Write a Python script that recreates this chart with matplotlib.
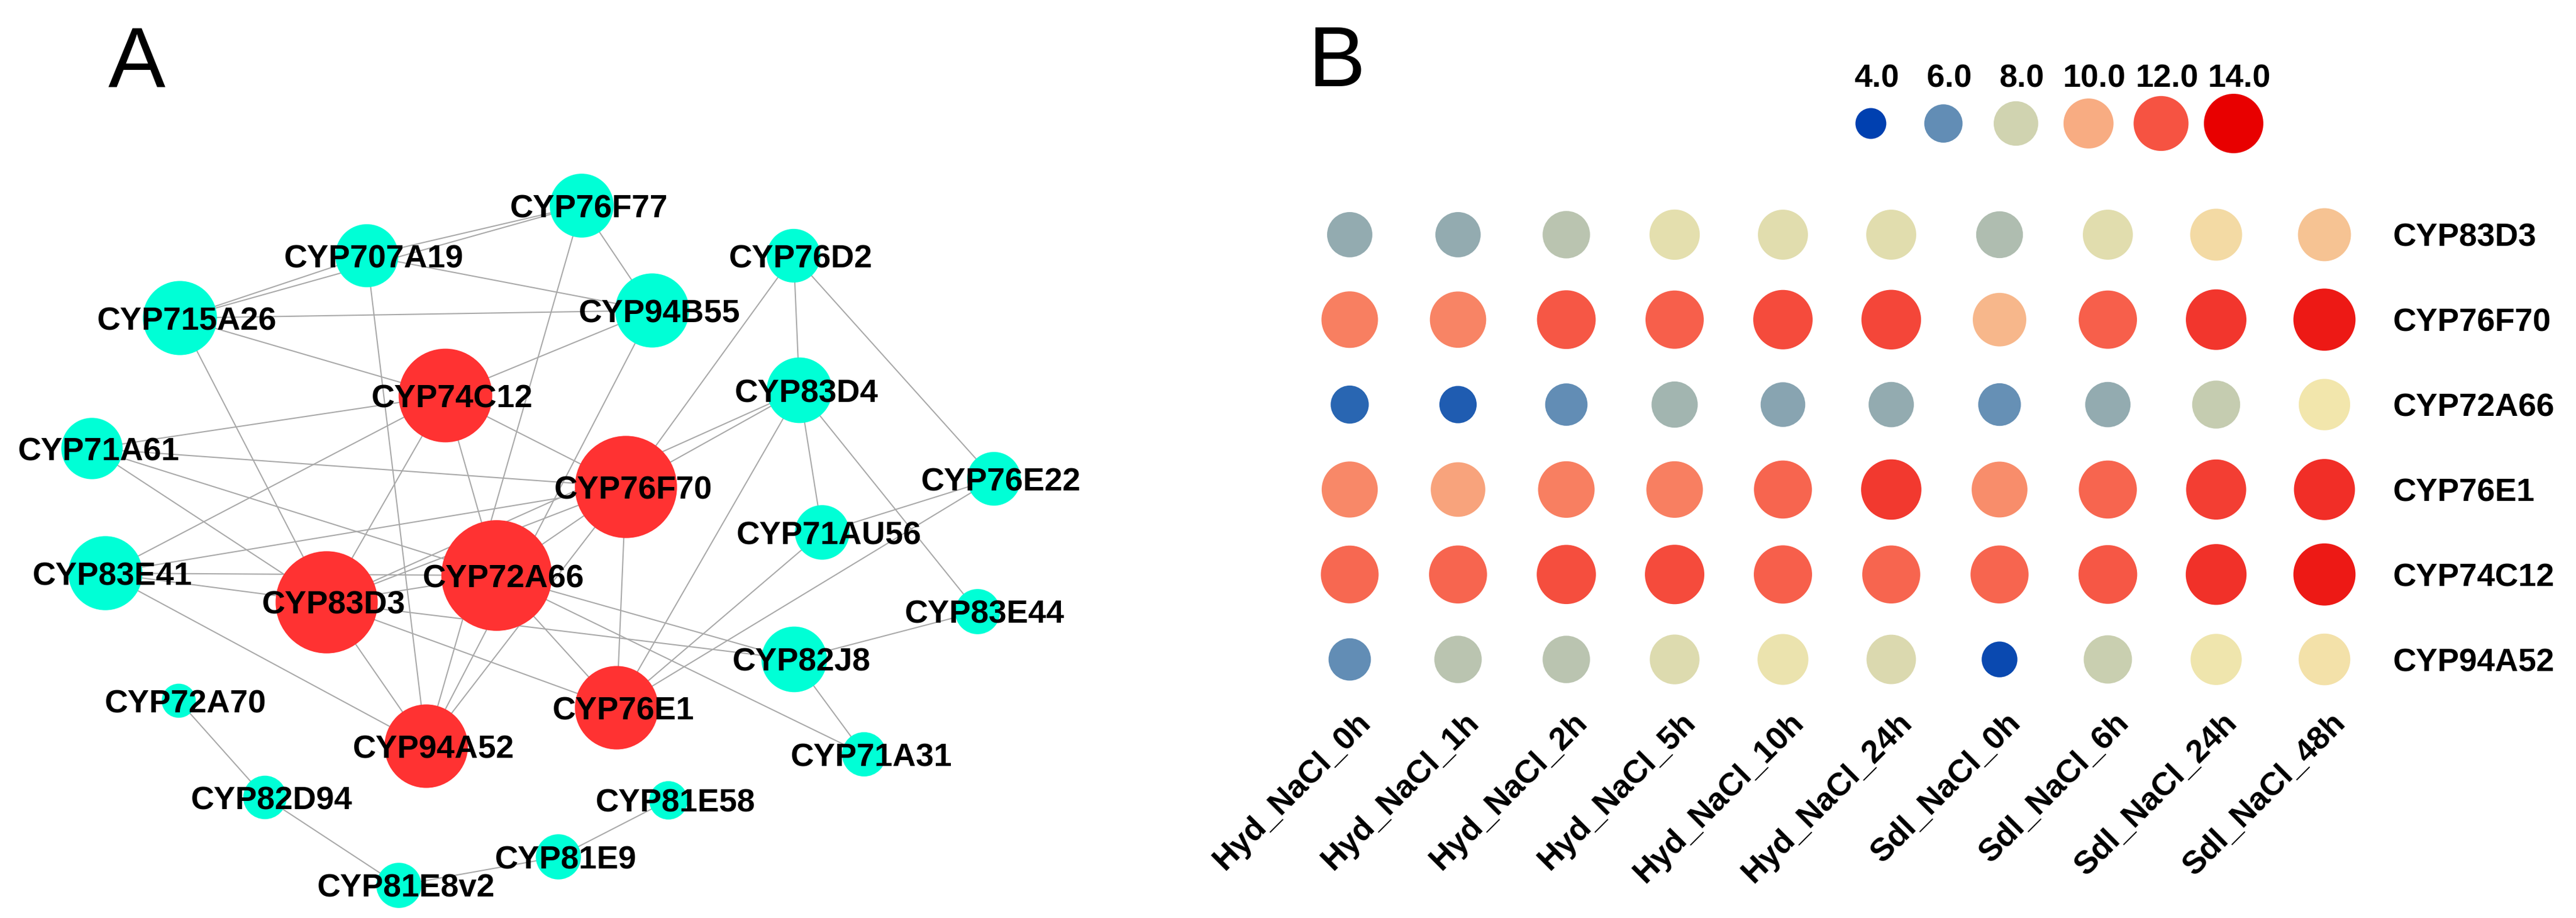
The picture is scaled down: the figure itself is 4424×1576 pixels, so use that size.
import matplotlib
matplotlib.use("Agg")
import matplotlib.pyplot as plt
import matplotlib.transforms as mtransforms
from matplotlib.patches import Circle
from matplotlib.colors import LinearSegmentedColormap, Normalize
import numpy as np

plt.rcParams['font.family'] = ['Liberation Sans', 'DejaVu Sans']

# ---- panel B data: expression of the hub genes ----
genes = ["CYP83D3", "CYP76F70", "CYP72A66", "CYP76E1", "CYP74C12", "CYP94A52"]
samples = ["Hyd_NaCl_0h", "Hyd_NaCl_1h", "Hyd_NaCl_2h", "Hyd_NaCl_5h", "Hyd_NaCl_10h",
           "Hyd_NaCl_24h", "Sdl_NaCl_0h", "Sdl_NaCl_6h", "Sdl_NaCl_24h", "Sdl_NaCl_48h"]
cyp83d3 = [6.9, 6.9, 7.6, 8.6, 8.5, 8.5, 7.4, 8.5, 9.2, 9.6]
cyp76f70 = [11.0, 10.9, 11.9, 11.7, 12.2, 12.3, 9.8, 11.7, 12.7, 13.4]
cyp72a66 = [4.8, 4.6, 6.0, 7.2, 6.7, 6.9, 6.1, 6.9, 7.8, 9.0]
cyp76e1 = [10.8, 10.2, 11.0, 11.0, 11.6, 12.6, 10.7, 11.6, 12.5, 12.9]
cyp74c12 = [11.5, 11.6, 12.1, 12.2, 11.7, 11.6, 11.6, 11.9, 12.8, 13.4]
cyp94a52 = [6.0, 7.6, 7.6, 8.4, 8.8, 8.3, 4.2, 7.9, 8.9, 9.1]
legend_values = [4.0, 6.0, 8.0, 10.0, 12.0, 14.0]

# ---- panel A data: co-expression network ----
nodes = ["CYP76F77", "CYP707A19", "CYP715A26", "CYP94B55", "CYP76D2", "CYP74C12",
         "CYP83D4", "CYP71A61", "CYP76F70", "CYP76E22", "CYP71AU56", "CYP83E41",
         "CYP83D3", "CYP72A66", "CYP83E44", "CYP82J8", "CYP72A70", "CYP94A52",
         "CYP76E1", "CYP71A31", "CYP82D94", "CYP81E58", "CYP81E9", "CYP81E8v2"]
node_score = [4.5, 4.4, 5.7, 5.7, 3.3, 8.0,
              4.7, 4.2, 9.0, 3.3, 3.4, 5.7,
              9.0, 10.0, 2.3, 4.7, 1.0, 6.8,
              6.8, 2.2, 2.1, 1.5, 2.3, 2.3]
edges = [
    ("CYP715A26", "CYP707A19"), ("CYP715A26", "CYP76F77"), ("CYP707A19", "CYP76F77"),
    ("CYP707A19", "CYP94B55"), ("CYP715A26", "CYP94B55"), ("CYP715A26", "CYP74C12"),
    ("CYP715A26", "CYP83D3"), ("CYP707A19", "CYP94A52"), ("CYP76F77", "CYP94A52"),
    ("CYP76F77", "CYP94B55"), ("CYP94B55", "CYP74C12"), ("CYP94B55", "CYP94A52"),
    ("CYP74C12", "CYP71A61"), ("CYP74C12", "CYP83E41"), ("CYP74C12", "CYP83D3"),
    ("CYP74C12", "CYP72A66"), ("CYP74C12", "CYP76F70"), ("CYP71A61", "CYP76F70"),
    ("CYP71A61", "CYP83D3"), ("CYP71A61", "CYP72A66"), ("CYP83E41", "CYP72A66"),
    ("CYP83E41", "CYP83D3"), ("CYP83E41", "CYP76F70"), ("CYP83E41", "CYP94A52"),
    ("CYP83D3", "CYP94A52"), ("CYP76F70", "CYP94A52"), ("CYP83D3", "CYP72A66"),
    ("CYP83D3", "CYP76F70"), ("CYP83D3", "CYP83D4"), ("CYP83D3", "CYP76E1"),
    ("CYP83D3", "CYP82J8"), ("CYP72A66", "CYP82J8"), ("CYP72A66", "CYP71A31"),
    ("CYP72A66", "CYP76E1"), ("CYP72A66", "CYP76F70"), ("CYP76F70", "CYP76E1"),
    ("CYP76E1", "CYP71AU56"), ("CYP76E1", "CYP76E22"), ("CYP76E1", "CYP83D4"),
    ("CYP83D4", "CYP71AU56"), ("CYP83D4", "CYP83E44"), ("CYP71AU56", "CYP76E22"),
    ("CYP82J8", "CYP83E44"), ("CYP82J8", "CYP71A31"), ("CYP81E9", "CYP81E58"),
    ("CYP76D2", "CYP83D4"), ("CYP76D2", "CYP76E22"), ("CYP76D2", "CYP76F70"),
    ("CYP83D4", "CYP76F70"), ("CYP72A70", "CYP82D94"), ("CYP82D94", "CYP81E8v2"),
    ("CYP81E8v2", "CYP81E9"),
]

# network layout (canvas pixels, as exported from the layout tool)
layout = {
    "CYP76F77": (999, 353), "CYP707A19": (630, 439), "CYP715A26": (309, 546),
    "CYP94B55": (1120, 533), "CYP76D2": (1363, 439), "CYP74C12": (765, 679),
    "CYP83D4": (1373, 670), "CYP71A61": (158, 770), "CYP76F70": (1075, 836),
    "CYP76E22": (1707, 822), "CYP71AU56": (1412, 914), "CYP83E41": (181, 984),
    "CYP83D3": (561, 1034), "CYP72A66": (853, 988), "CYP83E44": (1679, 1050),
    "CYP82J8": (1364, 1132), "CYP72A70": (307, 1203), "CYP94A52": (732, 1281),
    "CYP76E1": (1059, 1215), "CYP71A31": (1484, 1295), "CYP82D94": (455, 1369),
    "CYP81E58": (1148, 1374), "CYP81E9": (959, 1471), "CYP81E8v2": (685, 1520),
}

W, H = 4424, 1576
DPI = 200
fig = plt.figure(figsize=(W / DPI, H / DPI), dpi=DPI)
fig.patch.set_facecolor("white")

# ---------------- panel A ----------------
ax = fig.add_axes([0, 0, 1, 1])
ax.set_xlim(0, W)
ax.set_ylim(H, 0)
ax.axis("off")

for a, b in edges:
    (x0, y0), (x1, y1) = layout[a], layout[b]
    ax.plot([x0, x1], [y0, y1], color="#A8A8A8", lw=0.75, zorder=1)

for name, score in zip(nodes, node_score):
    x, y = layout[name]
    r = 22 + 7.3 * score
    col = "#FF3232" if name in genes else "#00FFD6"
    ax.add_patch(Circle((x, y), r, facecolor=col, edgecolor="none", zorder=2))
    ax.text(x + 12, y + 20, name, ha="center", va="baseline", fontsize=20,
            fontweight="bold", zorder=3)

ax.text(186, 150, "A", fontsize=53, ha="left", va="baseline")
ax.text(2345, 148, "B", fontsize=53, ha="right", va="baseline")

# ---------------- panel B ----------------
cmap = LinearSegmentedColormap.from_list("expr", [
    (0.00, "#0040B0"), (0.10, "#3470B2"), (0.20, "#628DB5"), (0.30, "#98AEB0"),
    (0.40, "#D0D3B0"), (0.50, "#F2E7AD"), (0.55, "#F5C998"), (0.60, "#F8AC82"),
    (0.70, "#F88062"), (0.80, "#F65342"), (0.90, "#F02A24"), (1.00, "#E80000")])
norm = Normalize(4, 14)


def dot_size(v):
    return 98.5 * np.asarray(v) - 30


vals = np.array([cyp83d3, cyp76f70, cyp72a66, cyp76e1, cyp74c12, cyp94a52])
xx, yy = np.meshgrid(np.arange(len(samples)), np.arange(len(genes)))

axh = fig.add_axes([2225 / W, (H - 1205) / H, 1860 / W, 875 / H])
axh.set_xlim(-0.5, 9.5)
axh.set_ylim(5.5, -0.5)
axh.axis("off")
axh.scatter(xx.ravel(), yy.ravel(), s=dot_size(vals.ravel()), c=vals.ravel(),
            cmap=cmap, norm=norm, edgecolors=cmap(norm(vals.ravel())),
            linewidths=2.5, clip_on=False)

row_tr = mtransforms.offset_copy(axh.transData, fig=fig, x=25, y=-20, units="dots")
for j, g in enumerate(genes):
    axh.text(9.5, j, g, transform=row_tr, ha="left", va="baseline",
             fontsize=20, fontweight="bold")

col_tr = mtransforms.offset_copy(axh.transData, fig=fig, x=28, y=-28, units="dots")
for i, s in enumerate(samples):
    axh.text(i, 5.5, s, transform=col_tr, ha="right", va="center", rotation=45,
             rotation_mode="anchor", fontsize=20, fontweight="bold")

# size / colour legend
axl = fig.add_axes([3150.7 / W, (H - 312) / H, 747.6 / W, 200 / H])
axl.set_xlim(-0.5, 5.5)
axl.set_ylim(-1, 1)
axl.axis("off")
lx = np.arange(len(legend_values))
axl.scatter(lx, np.zeros(len(lx)), s=dot_size(legend_values), c=legend_values,
            cmap=cmap, norm=norm, linewidths=0, clip_on=False)
lab_tr = mtransforms.offset_copy(axl.transData, fig=fig, x=10, y=62, units="dots")
for k, v in enumerate(legend_values):
    axl.text(k, 0, "%.1f" % v, transform=lab_tr, ha="center", va="baseline",
             fontsize=20, fontweight="bold")

fig.savefig("out.png", dpi=DPI)
